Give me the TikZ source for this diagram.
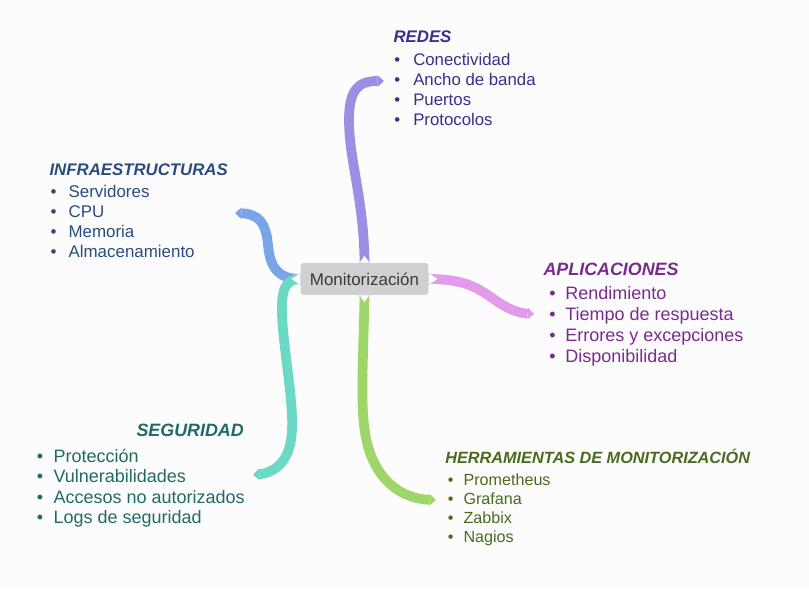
\documentclass[tikz,border=0pt]{standalone}
\usepackage{fontspec}
\setmainfont{Liberation Sans}
\usetikzlibrary{arrows.meta}
\definecolor{bgc}{HTML}{FCFCFC}
\definecolor{cRedes}{HTML}{3B2F8C}
\definecolor{cInfra}{HTML}{2B4C7E}
\definecolor{cAplic}{HTML}{7A2C8C}
\definecolor{cHerr}{HTML}{4A6B1F}
\definecolor{cSeg}{HTML}{216B66}
\definecolor{bPurple}{HTML}{9B8FE3}
\definecolor{bBlue}{HTML}{79A4E6}
\definecolor{bPink}{HTML}{E29AEA}
\definecolor{bGreen}{HTML}{9FD66A}
\definecolor{bTeal}{HTML}{6BD9C6}
\definecolor{boxc}{HTML}{D0D0D0}
\definecolor{boxtext}{HTML}{3A3A3A}
\newcommand\bitem[2]{\makebox[#1][l]{•}#2}
\begin{document}
\begin{tikzpicture}[x=0.75pt,y=-0.75pt,
  branch/.style={line width=7.3pt, line cap=butt,
    -{Triangle[width=8.8pt,length=4.8pt,line width=0pt]}},
  centerbox/.style={fill=boxc, rounded corners=2pt, inner sep=0pt,
    minimum width=95.7pt, minimum height=23.8pt, text=boxtext,
    font=\fontsize{12.7}{15}\selectfont},
  notch/.style={fill=white, draw=gray!30, line width=0.4pt},
  item/.style={anchor=base west, inner sep=0pt},
  title/.style={anchor=base west, inner sep=0pt, font=\bfseries\itshape}
]
\fill[bgc] (0,0) rectangle (809,589);
\useasboundingbox (0,0) rectangle (809,589);

% centre
\node[centerbox] (m) at (364.5,279) {Monitorización};

% branch end points
\coordinate (rt) at (384,81);
\coordinate (bt) at (235,213);
\coordinate (st) at (253,475);
\coordinate (gt) at (436,500);
\coordinate (pt) at (534,314);

% branches
\draw[branch, bPurple] (m.north) .. controls (364,200) and (349,160) .. (349,120)
   .. controls (349,90) and (358,81) .. (rt);
\draw[branch, bBlue] (m.west) .. controls (276,279) and (270,265) .. (268,245)
   .. controls (266,222) and (258,214) .. (bt);
\draw[branch, bTeal] (m.west) .. controls (282,279) and (280,295) .. (283,330)
   .. controls (288,380) and (296,420) .. (290,445)
   .. controls (285,465) and (272,473) .. (st);
\draw[branch, bGreen] (m.south) .. controls (363,380) and (358,425) .. (372,458)
   .. controls (385,488) and (408,499) .. (gt);
\draw[branch, bPink] (m.east) .. controls (465,279) and (478,288) .. (495,300)
   .. controls (508,309) and (518,313) .. (pt);

% notches on the centre box
\filldraw[notch, shift={(m.north)}] (-5,0) -- (0,-7) -- (5,0) -- cycle;
\filldraw[notch, shift={(m.south)}] (-5,0) -- (0,7) -- (5,0) -- cycle;
\filldraw[notch, shift={(m.west)}] (0,-6) -- (-9,0) -- (0,6) -- cycle;
\filldraw[notch, shift={(m.east)}] (0,-6) -- (9,0) -- (0,6) -- cycle;

% REDES
\node[title, text=cRedes, font=\bfseries\itshape\fontsize{12.6}{15}\selectfont] (tredes) at (393.3,42) {REDES};
\foreach \t [count=\i] in {Conectividad,Ancho de banda,Puertos,Protocolos}
  \node[item, text=cRedes, font=\fontsize{12.6}{15}\selectfont] (redes\i) at (394,{45+20*\i}) {\bitem{14.25pt}{\t}};

% INFRAESTRUCTURAS
\node[title, text=cInfra, font=\bfseries\itshape\fontsize{12.6}{15}\selectfont] (tinfra) at (49.3,175) {INFRAESTRUCTURAS};
\foreach \t [count=\i] in {Servidores,CPU,Memoria,Almacenamiento}
  \node[item, text=cInfra, font=\fontsize{12.7}{15}\selectfont] (infra\i) at (50.3,{177+20*\i}) {\bitem{13.5pt}{\t}};

% APLICACIONES
\node[title, text=cAplic, font=\bfseries\itshape\fontsize{13.4}{16}\selectfont] (taplic) at (543.3,275) {APLICACIONES};
\foreach \t [count=\i] in {Rendimiento,Tiempo de respuesta,Errores y excepciones,Disponibilidad}
  \node[item, text=cAplic, font=\fontsize{13.5}{16}\selectfont] (aplic\i) at (549,{278+21*\i}) {\bitem{12pt}{\t}};

% HERRAMIENTAS
\node[title, text=cHerr, font=\bfseries\itshape\fontsize{12.2}{14}\selectfont] (therr) at (445,463.3) {HERRAMIENTAS DE MONITORIZACIÓN};
\foreach \t [count=\i] in {Prometheus,Grafana,Zabbix,Nagios}
  \node[item, text=cHerr, font=\fontsize{12.1}{14}\selectfont] (herr\i) at (447.5,{466+19*\i}) {\bitem{11.85pt}{\t}};

% SEGURIDAD
\node[title, anchor=base east, text=cSeg, font=\bfseries\itshape\fontsize{13.4}{16}\selectfont] (tseg) at (244,436) {SEGURIDAD};
\foreach \t [count=\i] in {Protección,Vulnerabilidades,Accesos no autorizados,Logs de seguridad}
  \node[item, text=cSeg, font=\fontsize{13.5}{16}\selectfont] (seg\i) at (36.5,{441.5+20.5*\i}) {\bitem{12.6pt}{\t}};
\end{tikzpicture}
\end{document}
